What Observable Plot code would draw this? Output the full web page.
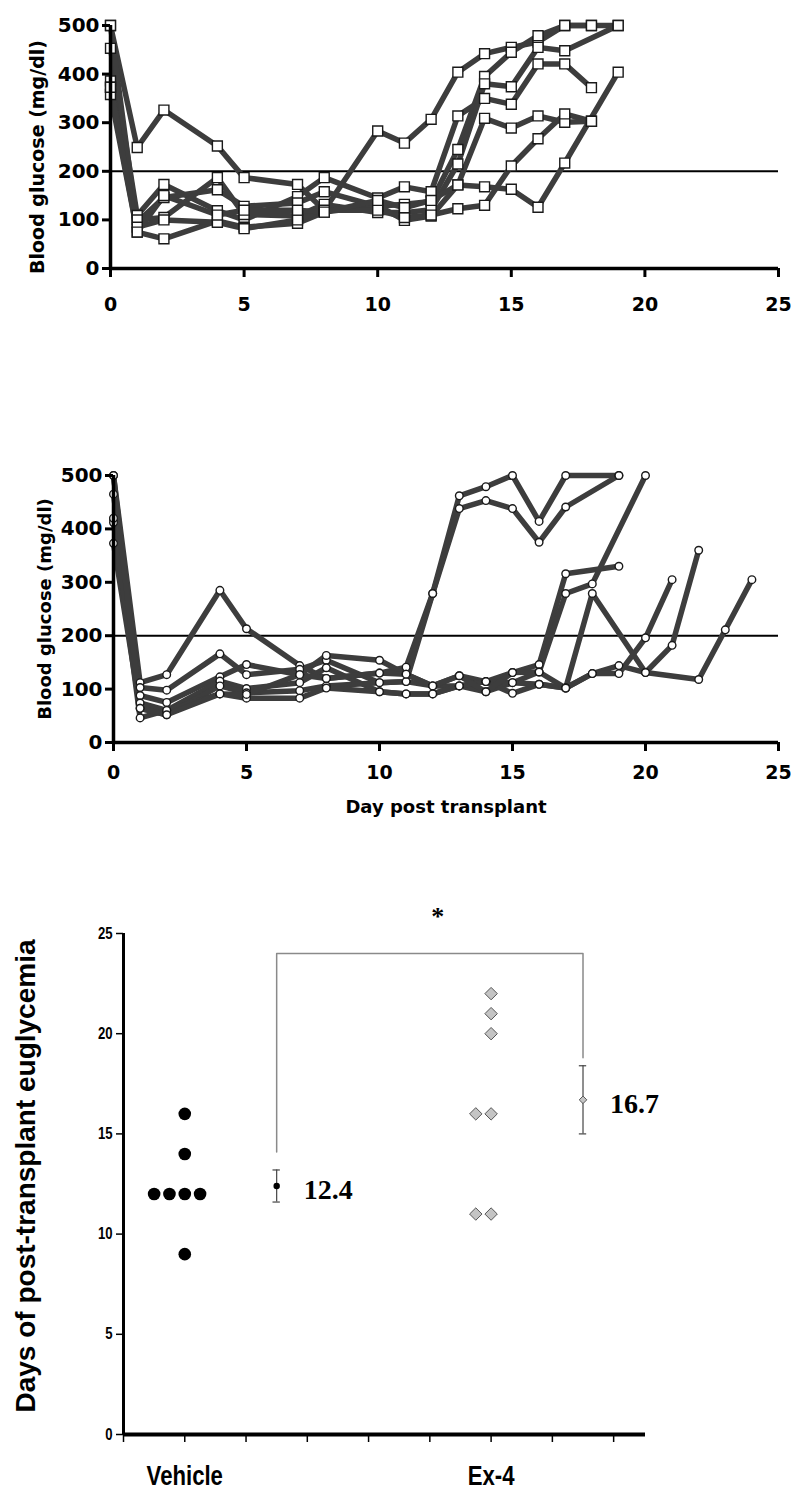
<!DOCTYPE html>
<html><head><meta charset="utf-8">
<script src="https://cdn.jsdelivr.net/npm/d3@7"></script>
<script src="https://cdn.jsdelivr.net/npm/@observablehq/plot@0.6"></script>
<style>
body{margin:0;background:#fff;}
#chart{position:relative;width:800px;height:1497px;background:#fff;}
#chart svg{position:absolute;left:0;}
</style></head><body><div id="chart"></div>
<script>
// ---------- Panel 1 : vehicle, blood glucose (mg/dl) ----------
const vehDays = [0,1,2,4,5,7,8,10,11,12,13,14,15,16,17,18,19];
const veh1 = [500,249,326,252,187,173,120,283,258,307,404,442,455,466,500,500,500];
const veh2 = [453,109,173,119,100,148,187,145,168,158,314,350,338,421,421,372,null];
const veh3 = [386,95,146,162,128,135,158,128,132,138,245,395,445,479,500,500,null];
const veh4 = [373,100,105,187,111,108,132,115,115,121,215,380,374,455,448,null,500];
const veh5 = [358,75,61,98,85,93,116,130,99,108,172,309,289,314,301,303,null];
const veh6 = [500,85,100,95,82,100,120,120,105,110,123,130,211,267,318,303,null];
const veh7 = [373,75,150,110,120,120,116,140,125,140,172,168,163,126,217,null,404];

// ---------- Panel 2 : Ex-4, blood glucose (mg/dl) ----------
const exDays = [0,1,2,4,5,7,8,10,11,12,13,14,15,16,17,18,19,20,21,22,23,24];
const ex1 = [500,112,127,285,213,144,120,130,141,279,462,479,500,414,500,null,500,null,null,null,null,null];
const ex2 = [418,103,98,166,127,137,154,112,114,279,438,453,438,375,441,null,500,null,null,null,null,null];
const ex3 = [465,88,75,123,146,127,163,154,128,106,125,114,131,146,316,null,330,null,null,null,null,null];
const ex4 = [412,74,60,115,101,112,140,95,91,91,106,95,112,132,279,297,null,500,null,null,null,null];
const ex5 = [373,64,52,106,93,97,106,112,114,106,106,114,92,109,102,279,null,131,null,118,211,305];
const ex6 = [420,46,60,91,83,83,102,95,91,91,106,114,112,109,102,129,144,131,182,360,null,null];
const ex7 = [500,64,52,91,90,127,120,130,128,106,125,95,131,132,102,129,129,196,305,null,null,null];

const glucoseThreshold = [200];
const glucoseTicks = [0,100,200,300,400,500];
const dayTicks = [0,5,10,15,20,25];

// ---------- Panel 3 : days of post-transplant euglycemia ----------
const groups = ["Vehicle","Ex-4"];
const vehicleEuglycemia = [16,14,12,12,12,12,9];
const ex4Euglycemia = [22,21,20,16,16,11,11];
const groupMeans = [12.4,16.7];
const groupErrLow = [11.6,15.0];
const groupErrHigh = [13.2,18.4];
const bracketEnds = [14.1,18.8];
const bracketTop = [24];
const significance = ["*"];
const euglyTicks = [0,5,10,15,20,25];

const chart = document.getElementById("chart");

function toRows(days, list) {
  const rows = [];
  list.forEach((vals, i) => vals.forEach((v, j) => { if (v != null) rows.push({id: i, day: days[j], value: v}); }));
  return rows;
}

function glucosePanel({rows, symbol, r, top, height, marginTop, marginBottom, marginLeft, xlabel, ylabelDx, ylabelDy, ylabelSize, tickPadX}) {
  const marks = [
    Plot.ruleY(glucoseThreshold, {stroke: "#000", strokeWidth: 2}),
    Plot.line(rows, {x: "day", y: "value", z: "id", stroke: "#3d3d3d", strokeWidth: 5.5, strokeLinejoin: "round", strokeLinecap: "round"}),
    Plot.dot(rows, {x: "day", y: "value", symbol, r, fill: "white", stroke: "#1a1a1a", strokeWidth: 1.4}),
    Plot.ruleX([0], {stroke: "#000", strokeWidth: 3.5}),
    Plot.ruleY([0], {stroke: "#000", strokeWidth: 3.5}),
    Plot.axisY({ticks: glucoseTicks, tickSize: 8, tickPadding: 3, strokeWidth: 3, label: null, fontSize: 20}),
    Plot.axisX({ticks: dayTicks, tickSize: 9, tickPadding: tickPadX, strokeWidth: 3, label: null, fontSize: 19}),
    Plot.text(["Blood glucose (mg/dl)"], {frameAnchor: "left", textAnchor: "middle", lineAnchor: "middle", rotate: -90, dx: ylabelDx, dy: ylabelDy, fontSize: ylabelSize, fontWeight: "bold", text: d => d})
  ];
  if (xlabel) marks.push(Plot.text([xlabel], {frameAnchor: "bottom", lineAnchor: "middle", dy: 65, fontSize: 18, fontWeight: "bold", text: d => d}));
  const svg = Plot.plot({
    width: 800, height, marginTop, marginBottom, marginLeft, marginRight: 22,
    x: {domain: [0, 25]},
    y: {domain: [0, 500]},
    style: {fontFamily: "DejaVu Sans, sans-serif", fontWeight: "bold", fontSize: "20px", background: "transparent", overflow: "visible", color: "#000"},
    marks
  });
  svg.style.top = top + "px";
  chart.appendChild(svg);
}

glucosePanel({rows: toRows(vehDays, [veh1,veh2,veh3,veh4,veh5,veh6,veh7]), symbol: "square", r: 5.6,
  top: 0, height: 330, marginTop: 25, marginBottom: 62, marginLeft: 110, xlabel: null, ylabelDx: -73, ylabelDy: 10, ylabelSize: 19, tickPadX: 20});
glucosePanel({rows: toRows(exDays, [ex1,ex2,ex3,ex4,ex5,ex6,ex7]), symbol: "circle", r: 3.8,
  top: 450, height: 380, marginTop: 25, marginBottom: 88, marginLeft: 113, xlabel: "Day post transplant", ylabelDx: -68, ylabelDy: 0, ylabelSize: 18, tickPadX: 14});

// ---------- Panel 3 ----------
const groupCenter = {"Vehicle": 1, "Ex-4": 6};
function spread(values, group) {
  const counts = d3.rollup(values, v => v.length, v => v);
  const seen = new Map();
  return values.map(v => {
    const n = counts.get(v), k = seen.get(v) || 0; seen.set(v, k + 1);
    return {group, value: v, x: groupCenter[group] + (k - Math.floor(n / 2)) * 0.25};
  });
}
const vehPts = spread(vehicleEuglycemia, groups[0]);
const exPts = spread(ex4Euglycemia, groups[1]);
const summary = groups.map((g, i) => ({group: g, x: groupCenter[g] + 1.5, mean: groupMeans[i], lo: groupErrLow[i], hi: groupErrHigh[i], end: bracketEnds[i]}));
const bracket = [
  {x: summary[0].x, y: summary[0].end},
  {x: summary[0].x, y: bracketTop[0]},
  {x: summary[1].x, y: bracketTop[0]},
  {x: summary[1].x, y: summary[1].end}
];
const capW = 0.06;
const svg3 = Plot.plot({
  width: 800, height: 667, marginTop: 103, marginBottom: 63, marginLeft: 123, marginRight: 155,
  x: {domain: [0, 8.52]},
  y: {domain: [0, 25]},
  style: {fontFamily: "'Liberation Sans', Arial, sans-serif", fontWeight: "bold", fontSize: "16px", background: "transparent", overflow: "visible", color: "#000"},
  marks: [
    Plot.line(bracket, {x: "x", y: "y", stroke: "#8a8a8a", strokeWidth: 1.5}),
    Plot.text(significance, {x: d => (summary[0].x + summary[1].x) / 2 + 0.13, y: 26, text: d => d, fontFamily: "Liberation Serif, serif", fontSize: 26, fontWeight: "bold", dy: 3}),
    Plot.dot(vehPts, {x: "x", y: "value", r: 6.3, fill: "#000", stroke: "none"}),
    Plot.dot(exPts, {x: "x", y: "value", symbol: "diamond2", r: 5.6, fill: "#c4c4c4", stroke: "#555", strokeWidth: 1}),
    Plot.ruleX(summary, {x: "x", y1: "lo", y2: "hi", stroke: "#444", strokeWidth: 1.2}),
    Plot.ruleY(summary, {y: "lo", x1: d => d.x - capW, x2: d => d.x + capW, stroke: "#444", strokeWidth: 1.2}),
    Plot.ruleY(summary, {y: "hi", x1: d => d.x - capW, x2: d => d.x + capW, stroke: "#444", strokeWidth: 1.2}),
    Plot.dot(summary.filter(d => d.group === "Vehicle"), {x: "x", y: "mean", r: 3.2, fill: "#000"}),
    Plot.dot(summary.filter(d => d.group === "Ex-4"), {x: "x", y: "mean", symbol: "diamond2", r: 3.4, fill: "#c4c4c4", stroke: "#555", strokeWidth: 1}),
    Plot.text(summary, {x: "x", y: "mean", text: d => d.mean.toFixed(1), dx: 27, dy: 4, textAnchor: "start", fontFamily: "Liberation Serif, serif", fontSize: 28, fontWeight: "bold"}),
    Plot.ruleX([0], {stroke: "#000", strokeWidth: 3}),
    Plot.ruleY([0], {stroke: "#000", strokeWidth: 4}),
    Plot.axisY({ticks: euglyTicks, tickSize: 7, tickPadding: 4, strokeWidth: 1.5, label: null, fontSize: 16}),
    Plot.axisX({ticks: d3.range(0, 9), tickSize: 8, tickPadding: 23, strokeWidth: 1.5, label: null, fontSize: 27,
      tickFormat: d => { const g = groups.find(k => groupCenter[k] === d); return g ? g : ""; }}),
    Plot.text(["Days of post-transplant euglycemia"], {frameAnchor: "left", textAnchor: "middle", lineAnchor: "middle", rotate: -90, dx: -97, dy: -8, fontSize: 28, fontWeight: "bold", fontFamily: "Liberation Sans, Arial, sans-serif", text: d => d})
  ]
});
svg3.style.top = "830px";
chart.appendChild(svg3);

// narrow the condensed-looking tick labels of the bottom panel
function condense(selector, factor) {
  d3.select(svg3).selectAll(selector).each(function () {
    const len = this.getComputedTextLength();
    if (len > 0) { this.setAttribute("textLength", len * factor); this.setAttribute("lengthAdjust", "spacingAndGlyphs"); }
  });
}
condense("[aria-label='x-axis tick label'] text", 0.82);
condense("[aria-label='y-axis tick label'] text", 0.82);
</script>
</body></html>
